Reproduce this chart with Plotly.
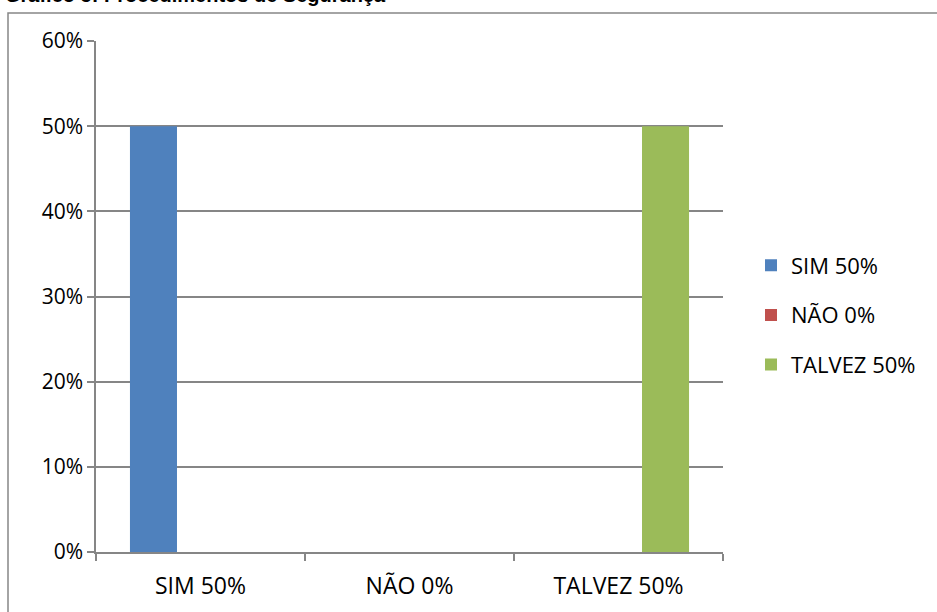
import plotly.graph_objects as go

categories = ["SIM 50%", "NÃO 0%", "TALVEZ 50%"]
series_names = ["SIM 50%", "NÃO 0%", "TALVEZ 50%"]
sim_values = [0.50, 0.0, 0.0]
nao_values = [0.0, 0.0, 0.0]
talvez_values = [0.0, 0.0, 0.50]
colors = ["#4F81BD", "#C0504D", "#9BBB59"]
y_ticks = [0, 0.1, 0.2, 0.3, 0.4, 0.5, 0.6]
y_tick_labels = ["0%", "10%", "20%", "30%", "40%", "50%", "60%"]
title_text = "Gráfico 5: Procedimentos de Segurança"

W, H = 937, 612
L, R, T, B = 96, 214, 41, 60
pw, ph = W - L - R, H - T - B

fig = go.Figure()
for i, (name, vals, c) in enumerate(zip(series_names, [sim_values, nao_values, talvez_values], colors)):
    fig.add_trace(go.Bar(x=categories, y=vals, name=name, marker_color=c,
                         marker_line_width=0, legendgroup="g%d" % i))

FONT = "Open Sans, Calibri, sans-serif"
fig.update_layout(
    width=W, height=H,
    margin=dict(l=L, r=R, t=T, b=B, autoexpand=False),
    paper_bgcolor="white", plot_bgcolor="white",
    barmode="group", bargap=0.325, bargroupgap=0,
    font=dict(family=FONT, size=21, color="#000000"),
    showlegend=True,
    legend=dict(x=(751 - L) / pw, y=(552 - 315) / ph, xanchor="left", yanchor="middle",
                font=dict(size=22), itemwidth=30, tracegroupgap=18,
                bgcolor="rgba(0,0,0,0)"),
    xaxis=dict(showgrid=False, showline=True, linecolor="#868686", linewidth=1.5,
               ticks="outside", ticklen=7, tickcolor="#868686", tickwidth=1.5,
               tickson="boundaries", tickfont=dict(size=23), ticklabelstandoff=13,
               fixedrange=True),
    yaxis=dict(range=[0, 0.6], tickvals=y_ticks, ticktext=y_tick_labels,
               showgrid=True, gridcolor="#868686", gridwidth=1.5,
               showline=True, linecolor="#868686", linewidth=1.5,
               ticks="outside", ticklen=7, tickcolor="#868686", tickwidth=1.5,
               tickfont=dict(size=21), zeroline=False, fixedrange=True),
)

# outer chart border (partially cropped)
fig.add_shape(type="rect", xref="paper", yref="paper",
              x0=(8 - L) / pw, x1=(W + 20 - L) / pw,
              y0=(H - B - (H + 30)) / ph, y1=(H - B - 13) / ph,
              line=dict(color="#868686", width=1.5), fillcolor="rgba(0,0,0,0)", layer="below")

fig.add_annotation(text="<b>" + title_text + "</b>", xref="paper", yref="paper",
                   x=(3 - L) / pw, y=(H - B - 8) / ph, xanchor="left", yanchor="bottom",
                   showarrow=False, font=dict(family="Liberation Sans, Arial", size=20, color="black"))

fig.write_html("out.html")
